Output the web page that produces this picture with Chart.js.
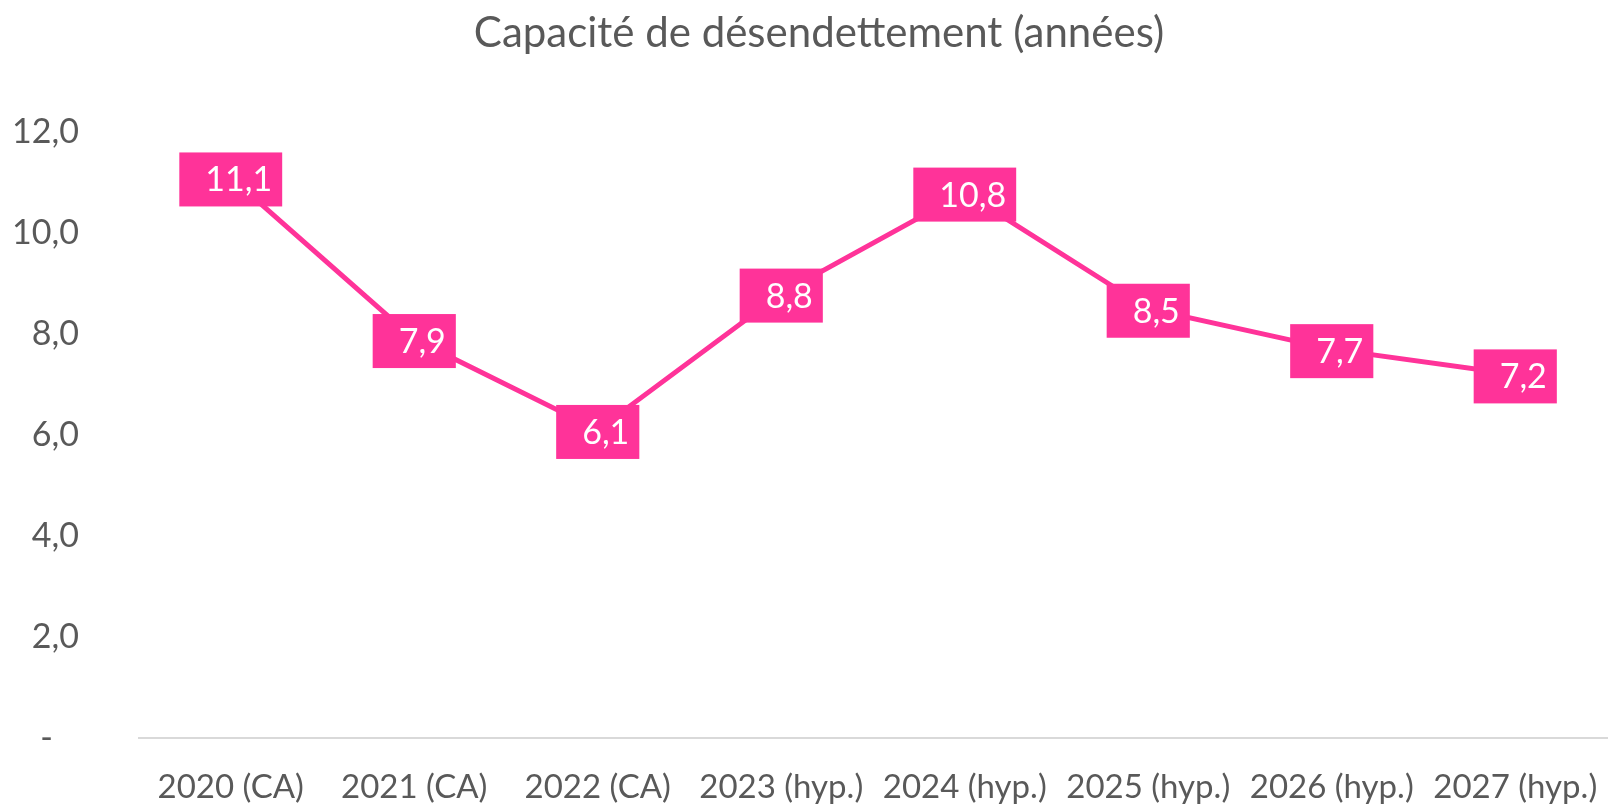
<!DOCTYPE html>
<html>
<head>
<meta charset="utf-8">
<script src="https://cdn.jsdelivr.net/npm/chart.js@4.4.0/dist/chart.umd.min.js"></script>
<style>
  html, body { margin: 0; padding: 0; background: #ffffff; }
  #wrap { width: 1608px; height: 806px; }
</style>
</head>
<body>
<div id="wrap"><canvas id="ratioChart" width="1608" height="806"></canvas></div>
<script>
const categories = ['2020 (CA)', '2021 (CA)', '2022 (CA)', '2023 (hyp.)', '2024 (hyp.)', '2025 (hyp.)', '2026 (hyp.)', '2027 (hyp.)'];
const ratioValues = [11.1, 7.9, 6.1, 8.8, 10.8, 8.5, 7.7, 7.2];
const yTicks = [0, 2, 4, 6, 8, 10, 12];
const chartTitle = 'Capacité de désendettement (années)';

const pink = '#ff3399';
const textGray = '#595959';
const fontFamily = 'Lato, "Open Sans", sans-serif';

const fmt = v => v.toFixed(1).replace('.', ',');

// title is drawn by hand so it can sit a little right of the canvas centre, like the original
const titleText = {
    id: 'titleText',
    afterDraw(chart) {
        const ctx = chart.ctx;
        ctx.save();
        ctx.font = '42px ' + fontFamily;
        ctx.fillStyle = textGray;
        ctx.textAlign = 'center';
        ctx.textBaseline = 'middle';
        ctx.fillText(chartTitle, 819, 33);
        ctx.restore();
    }
};

// boxed value labels, drawn at the points the line controller computed
const boxLabels = {
    id: 'boxLabels',
    afterDatasetsDraw(chart) {
        const ctx = chart.ctx;
        const meta = chart.getDatasetMeta(0);
        ctx.save();
        ctx.font = '34px ' + fontFamily;
        ctx.textBaseline = 'middle';
        ctx.textAlign = 'center';
        meta.data.forEach((pt, i) => {
            const txt = fmt(ratioValues[i]);
            const w = ctx.measureText(txt).width + 36;
            const h = 54;
            ctx.fillStyle = pink;
            ctx.fillRect(pt.x - w / 2, pt.y - h / 2 + 2, w, h);
            ctx.fillStyle = '#ffffff';
            ctx.fillText(txt, pt.x + 8, pt.y + 3);
        });
        ctx.restore();
    }
};

new Chart(document.getElementById('ratioChart'), {
    type: 'line',
    data: {
        labels: categories,
        datasets: [{
            data: ratioValues,
            borderColor: pink,
            borderWidth: 5,
            pointRadius: 0,
            tension: 0,
            fill: false
        }]
    },
    options: {
        responsive: false,
        animation: false,
        layout: { padding: { left: 0, right: 1, top: 132, bottom: 0 } },
        plugins: {
            legend: { display: false },
            tooltip: { enabled: false },
            title: { display: false }
        },
        scales: {
            x: {
                offset: true,
                afterFit(scale) {
                    scale.height = 68;
                    scale.paddingLeft = 0;
                    scale.paddingRight = 0;
                },
                grid: { display: false, drawTicks: false },
                border: { display: true, color: '#d9d9d9', width: 2 },
                ticks: {
                    color: textGray,
                    font: { family: fontFamily, size: 33 },
                    padding: 30,
                    maxRotation: 0,
                    autoSkip: false
                }
            },
            y: {
                min: 0,
                max: 12,
                afterBuildTicks(scale) {
                    scale.ticks = yTicks.map(v => ({ value: v }));
                },
                afterFit(scale) {
                    scale.width = 139;
                    scale.paddingTop = 0;
                    scale.paddingBottom = 0;
                },
                grid: { display: false, drawTicks: false },
                border: { display: false },
                ticks: {
                    color: textGray,
                    font: { family: fontFamily, size: 34 },
                    padding: 60,
                    // accounting style: zero shown as a dash, set in from the right
                    callback: v => (v === 0 ? '-   ' : fmt(v))
                }
            }
        }
    },
    plugins: [boxLabels, titleText]
});
</script>
</body>
</html>
